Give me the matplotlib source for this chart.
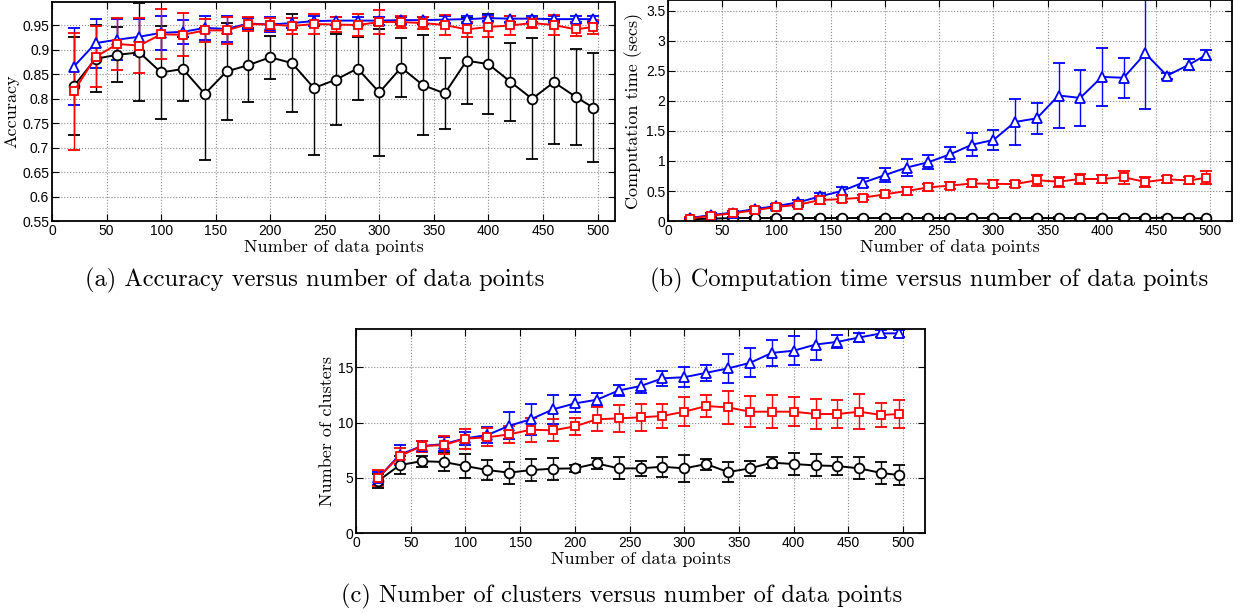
import numpy as np
import matplotlib
matplotlib.use("Agg")
import matplotlib.pyplot as plt

n_points = [20, 40, 60, 80, 100, 120, 140, 160, 180, 200, 220, 240, 260,
            280, 300, 320, 340, 360, 380, 400, 420, 440, 460, 480, 496]

# (a) accuracy
acc_black = [0.826, 0.882, 0.890, 0.895, 0.854, 0.861, 0.810, 0.856, 0.869, 0.885, 0.873, 0.822, 0.839,
             0.862, 0.813, 0.864, 0.828, 0.811, 0.878, 0.871, 0.835, 0.800, 0.834, 0.804, 0.782]
acc_black_err = [0.10, 0.068, 0.056, 0.10, 0.095, 0.065, 0.135, 0.10, 0.075, 0.044, 0.10, 0.137, 0.093,
                 0.065, 0.13, 0.06, 0.102, 0.073, 0.088, 0.102, 0.08, 0.124, 0.127, 0.098, 0.111]
acc_blue = [0.866, 0.914, 0.921, 0.927, 0.935, 0.937, 0.945, 0.943, 0.954, 0.952, 0.955, 0.959, 0.960,
            0.960, 0.960, 0.961, 0.961, 0.962, 0.963, 0.965, 0.964, 0.964, 0.963, 0.963, 0.963]
acc_blue_err = [0.078, 0.05, 0.042, 0.037, 0.035, 0.025, 0.025, 0.027, 0.012, 0.015, 0.01, 0.01, 0.008,
                0.008, 0.008, 0.007, 0.007, 0.007, 0.007, 0.006, 0.006, 0.006, 0.006, 0.006, 0.006]
acc_red = [0.815, 0.886, 0.912, 0.909, 0.932, 0.931, 0.940, 0.940, 0.953, 0.952, 0.949, 0.953, 0.952,
           0.951, 0.957, 0.957, 0.955, 0.951, 0.942, 0.947, 0.950, 0.955, 0.951, 0.942, 0.947]
acc_red_err = [0.12, 0.062, 0.053, 0.057, 0.051, 0.044, 0.024, 0.027, 0.015, 0.013, 0.016, 0.02, 0.016,
               0.023, 0.025, 0.012, 0.013, 0.02, 0.016, 0.02, 0.02, 0.01, 0.02, 0.013, 0.015]

# (b) computation time
time_black = [0.03, 0.04, 0.05, 0.05, 0.05, 0.05, 0.05, 0.05, 0.05, 0.05, 0.05, 0.05, 0.05,
              0.05, 0.05, 0.05, 0.05, 0.05, 0.05, 0.05, 0.05, 0.05, 0.055, 0.05, 0.045]
time_black_err = [0.01] * 25
time_blue = [0.05, 0.10, 0.14, 0.20, 0.25, 0.31, 0.41, 0.50, 0.64, 0.765, 0.89, 0.98, 1.11,
             1.27, 1.35, 1.65, 1.71, 2.09, 2.05, 2.40, 2.385, 2.79, 2.42, 2.60, 2.765]
time_blue_err = [0.02, 0.03, 0.03, 0.04, 0.04, 0.04, 0.05, 0.06, 0.07, 0.12, 0.14, 0.12, 0.13,
                 0.195, 0.165, 0.385, 0.26, 0.54, 0.47, 0.486, 0.33, 0.93, 0.05, 0.09, 0.08]
time_red = [0.04, 0.09, 0.13, 0.18, 0.235, 0.27, 0.35, 0.365, 0.39, 0.445, 0.50, 0.56, 0.59,
            0.625, 0.62, 0.615, 0.68, 0.655, 0.70, 0.70, 0.73, 0.65, 0.695, 0.675, 0.72]
time_red_err = [0.02, 0.02, 0.02, 0.03, 0.03, 0.03, 0.07, 0.05, 0.04, 0.05, 0.06, 0.06, 0.06,
                0.06, 0.06, 0.05, 0.09, 0.08, 0.09, 0.07, 0.11, 0.08, 0.06, 0.06, 0.11]

# (c) number of clusters
clu_black = [4.7, 6.15, 6.5, 6.43, 6.06, 5.7, 5.46, 5.7, 5.82, 5.85, 6.3, 5.85, 5.85,
             6.0, 5.85, 6.24, 5.52, 5.85, 6.37, 6.24, 6.12, 6.06, 5.85, 5.43, 5.25]
clu_black_err = [0.6, 0.8, 0.5, 0.8, 1.1, 0.9, 1.0, 1.0, 1.0, 0.3, 0.5, 1.0, 0.7,
                 0.9, 1.2, 0.5, 0.9, 0.7, 0.5, 1.0, 1.0, 0.8, 1.0, 1.0, 0.9]
clu_blue = [4.95, 7.09, 7.87, 8.05, 8.57, 8.87, 9.71, 10.3, 11.19, 11.73, 12.06, 12.9, 13.3,
            14.0, 14.1, 14.5, 14.9, 15.4, 16.3, 16.5, 17.06, 17.3, 17.7, 18.07, 18.07]
clu_blue_err = [0.6, 0.9, 0.5, 0.6, 0.6, 0.7, 1.2, 1.4, 1.3, 0.8, 0.6, 0.5, 0.6,
                0.7, 0.9, 0.7, 1.3, 1.3, 1.2, 1.3, 1.4, 0.6, 0.4, 0.3, 0.3]
clu_red = [5.0, 6.97, 7.87, 7.96, 8.54, 8.66, 8.93, 9.35, 9.29, 9.65, 10.29, 10.38, 10.47,
           10.59, 10.98, 11.49, 11.37, 10.98, 10.98, 10.98, 10.77, 10.77, 10.98, 10.68, 10.77]
clu_red_err = [0.7, 0.7, 0.5, 0.8, 0.9, 0.8, 0.8, 1.1, 1.0, 0.8, 1.1, 1.2, 1.2,
               1.1, 1.3, 1.0, 1.5, 1.4, 1.5, 1.3, 1.4, 1.3, 1.6, 1.1, 1.3]

plt.rcParams["font.family"] = ["Liberation Sans", "DejaVu Sans"]
serif = ["cmr10", "DejaVu Serif"]

marker_size = {"o": 7, "^": 7, "s": 6}


def draw(ax, series, ylim, yticks, ylabel, xmax):
    for y, e, color, marker in series:
        ax.errorbar(n_points, y, yerr=e, color=color, ecolor=color, marker=marker,
                    markersize=marker_size[marker], markerfacecolor="white",
                    markeredgecolor=color, markeredgewidth=1.3, linewidth=1.4,
                    elinewidth=1.0, capsize=4, capthick=1.0)
    ax.set_xlim(0, xmax)
    ax.set_ylim(*ylim)
    ax.set_xticks(range(0, 501, 50))
    ax.set_yticks(yticks)
    ax.grid(True, linestyle=":", color="0.55", linewidth=0.8)
    ax.set_axisbelow(True)
    ax.tick_params(direction="in", top=True, right=True, labelsize=10, length=5, pad=2)
    for s in ax.spines.values():
        s.set_linewidth(1.3)
    ax.set_xlabel("Number of data points", family=serif, fontsize=13, labelpad=1)
    ax.set_ylabel(ylabel, family=serif, fontsize=13, labelpad=2)


fig = plt.figure(figsize=(12.44, 6.14), dpi=100)

ax_a = fig.add_axes([0.0418, 0.640, 0.4526, 0.3567])
draw(ax_a, [(acc_black, acc_black_err, "black", "o"),
            (acc_blue, acc_blue_err, "blue", "^"),
            (acc_red, acc_red_err, "red", "s")],
     (0.55, 0.998), np.arange(0.55, 0.951, 0.05), "Accuracy", 516)
ax_a.set_yticklabels(["0.55", "0.6", "0.65", "0.7", "0.75", "0.8", "0.85", "0.9", "0.95"])

ax_b = fig.add_axes([0.537, 0.640, 0.4534, 0.36])
draw(ax_b, [(time_black, time_black_err, "black", "o"),
            (time_blue, time_blue_err, "blue", "^"),
            (time_red, time_red_err, "red", "s")],
     (0, 3.68), np.arange(0, 3.51, 0.5), "Computation time (secs)", 520)
ax_b.set_yticklabels(["0", "0.5", "1", "1.5", "2", "2.5", "3", "3.5"])

ax_c = fig.add_axes([0.2862, 0.1319, 0.4574, 0.3322])
draw(ax_c, [(clu_black, clu_black_err, "black", "o"),
            (clu_blue, clu_blue_err, "blue", "^"),
            (clu_red, clu_red_err, "red", "s")],
     (0, 18.46), [0, 5, 10, 15], "Number of clusters", 520)

fig.text(0.2528, 0.544, "(a) Accuracy versus number of data points",
         family=serif, fontsize=17.6, ha="center", va="center")
fig.text(0.7465, 0.544, "(b) Computation time versus number of data points",
         family=serif, fontsize=17.6, ha="center", va="center")
fig.text(0.4995, 0.029, "(c) Number of clusters versus number of data points",
         family=serif, fontsize=17.6, ha="center", va="center")

fig.savefig("out.png", dpi=100)
